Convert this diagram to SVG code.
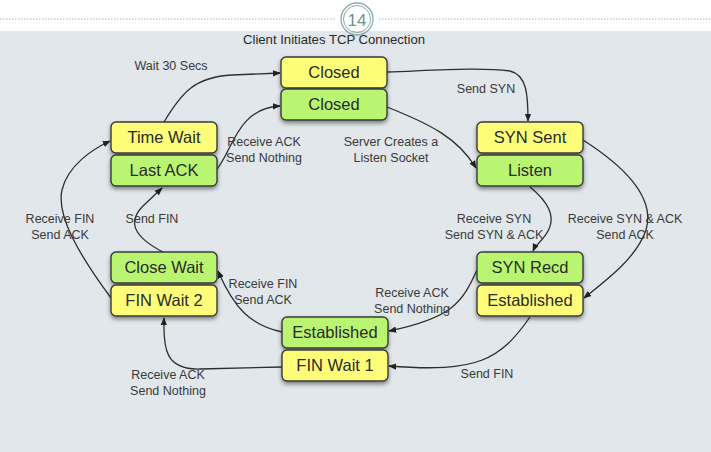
<svg xmlns="http://www.w3.org/2000/svg" width="711" height="452" viewBox="0 0 711 452">
<defs>
<style>
.box{stroke:#3a3a3a;stroke-width:1.4;filter:url(#sh)}
.y{fill:#fdfd7a}
.g{fill:#b9f56f}
.bt{font-family:"Liberation Sans","Open Sans",sans-serif;font-size:16.5px;fill:#2a2a2a;text-anchor:middle}
.lb{font-family:"Liberation Sans","Open Sans",sans-serif;font-size:12.5px;fill:#3a3a3a;text-anchor:middle}
.e{fill:none;stroke:#2e2e2e;stroke-width:1.3;marker-end:url(#ah)}
</style>
<filter id="sh" x="-20%" y="-20%" width="140%" height="160%">
<feDropShadow dx="0" dy="2.5" stdDeviation="2" flood-color="#000" flood-opacity="0.45"/>
</filter>
<marker id="ah" viewBox="0 0 10 10" refX="9" refY="5" markerWidth="8" markerHeight="8" markerUnits="userSpaceOnUse" orient="auto">
<path d="M0,1 L10,5 L0,9 z" fill="#222"/>
</marker>
</defs>
<rect x="0" y="0" width="711" height="452" fill="#ffffff"/>
<rect x="0" y="31" width="711" height="421" fill="#e1e7ea"/>
<g id="header">
<line x1="0" y1="19" x2="336" y2="19" stroke="#9fb4b8" stroke-width="1" stroke-dasharray="1.5,1.5"/>
<line x1="379" y1="19" x2="711" y2="19" stroke="#9fb4b8" stroke-width="1" stroke-dasharray="1.5,1.5"/>
<circle cx="357" cy="19" r="16" fill="none" stroke="#8aa9aa" stroke-width="1.3"/>
<circle cx="357" cy="19" r="13.5" fill="none" stroke="#8aa9aa" stroke-width="1"/>
<text x="357" y="26" font-family="'Liberation Sans','Open Sans',sans-serif" font-size="17" fill="#6e9292" text-anchor="middle">14</text>
<text x="334" y="44" font-family="'Liberation Sans','Open Sans',sans-serif" font-size="13" fill="#2a2a2a" text-anchor="middle" textLength="182" lengthAdjust="spacingAndGlyphs">Client Initiates TCP Connection</text>
</g>
<g id="connectors">
<path id="e1" class="e" d="M164,122 C182,92 195,77 232,75 L280,73"/>
<path id="e2" class="e" d="M217,169 C232,152 237,108 280,106"/>
<path id="e3" class="e" d="M387,72 C440,70 480,67 510,71 C527,75 528,95 528,121"/>
<path id="e4" class="e" d="M387,107 C430,124 458,138 476,168"/>
<path id="e5" class="e" d="M530,187 C546,200 556,214 549,229 C544,240 536,244 533,251"/>
<path id="e6" class="e" d="M583,140 C630,170 655,200 646,230 C637,256 612,276 584,298"/>
<path id="e7" class="e" d="M477,270 C462,303 452,318 389,331"/>
<path id="e8" class="e" d="M530,317 C500,360 478,373 389,366"/>
<path id="e9" class="e" d="M282,332 C250,325 234,308 218,271"/>
<path id="e10" class="e" d="M282,367 L200,369 C166,370 163,350 164,318"/>
<path id="e11" class="e" d="M163,252 C132,236 128,221 143,206 L162,188"/>
<path id="e12" class="e" d="M111,298 C80,256 56,216 62,190 C68,165 93,149 110,141"/>
</g>
<g id="closed-client">
<rect class="box y" x="281" y="57" width="106" height="31" rx="5"/>
<text class="bt" x="334" y="78">Closed</text>
</g>
<g id="closed-server">
<rect class="box g" x="281" y="89" width="106" height="31" rx="5"/>
<text class="bt" x="334" y="110">Closed</text>
</g>
<g id="time-wait">
<rect class="box y" x="111" y="122" width="106" height="31" rx="5"/>
<text class="bt" x="164" y="143">Time Wait</text>
</g>
<g id="last-ack">
<rect class="box g" x="111" y="155" width="106" height="31" rx="5"/>
<text class="bt" x="164" y="176">Last ACK</text>
</g>
<g id="syn-sent">
<rect class="box y" x="477" y="122" width="106" height="31" rx="5"/>
<text class="bt" x="530" y="143">SYN Sent</text>
</g>
<g id="listen">
<rect class="box g" x="477" y="155" width="106" height="31" rx="5"/>
<text class="bt" x="530" y="176">Listen</text>
</g>
<g id="close-wait">
<rect class="box g" x="111" y="252" width="106" height="31" rx="5"/>
<text class="bt" x="164" y="273">Close Wait</text>
</g>
<g id="fin-wait-2">
<rect class="box y" x="111" y="285" width="106" height="31" rx="5"/>
<text class="bt" x="164" y="306">FIN Wait 2</text>
</g>
<g id="syn-recd">
<rect class="box g" x="477" y="252" width="106" height="31" rx="5"/>
<text class="bt" x="530" y="273">SYN Recd</text>
</g>
<g id="established-client">
<rect class="box y" x="477" y="285" width="106" height="31" rx="5"/>
<text class="bt" x="530" y="306">Established</text>
</g>
<g id="established-server">
<rect class="box g" x="282" y="317" width="106" height="31" rx="5"/>
<text class="bt" x="335" y="338">Established</text>
</g>
<g id="fin-wait-1">
<rect class="box y" x="282" y="350" width="106" height="31" rx="5"/>
<text class="bt" x="335" y="371">FIN Wait 1</text>
</g>
<g id="labels">
<text class="lb" x="171" y="70">Wait 30 Secs</text>
<text class="lb" x="264" y="146">Receive ACK</text>
<text class="lb" x="264" y="162">Send Nothing</text>
<text class="lb" x="391" y="146">Server Creates a</text>
<text class="lb" x="391" y="162">Listen Socket</text>
<text class="lb" x="486" y="93">Send SYN</text>
<text class="lb" x="494" y="223">Receive SYN</text>
<text class="lb" x="494" y="239">Send SYN &amp; ACK</text>
<text class="lb" x="625" y="223">Receive SYN &amp; ACK</text>
<text class="lb" x="625" y="239">Send ACK</text>
<text class="lb" x="60" y="223">Receive FIN</text>
<text class="lb" x="60" y="239">Send ACK</text>
<text class="lb" x="152" y="223">Send FIN</text>
<text class="lb" x="263" y="288">Receive FIN</text>
<text class="lb" x="263" y="304">Send ACK</text>
<text class="lb" x="412" y="297">Receive ACK</text>
<text class="lb" x="412" y="313">Send Nothing</text>
<text class="lb" x="168" y="379">Receive ACK</text>
<text class="lb" x="168" y="395">Send Nothing</text>
<text class="lb" x="487" y="378">Send FIN</text>
</g>
</svg>
